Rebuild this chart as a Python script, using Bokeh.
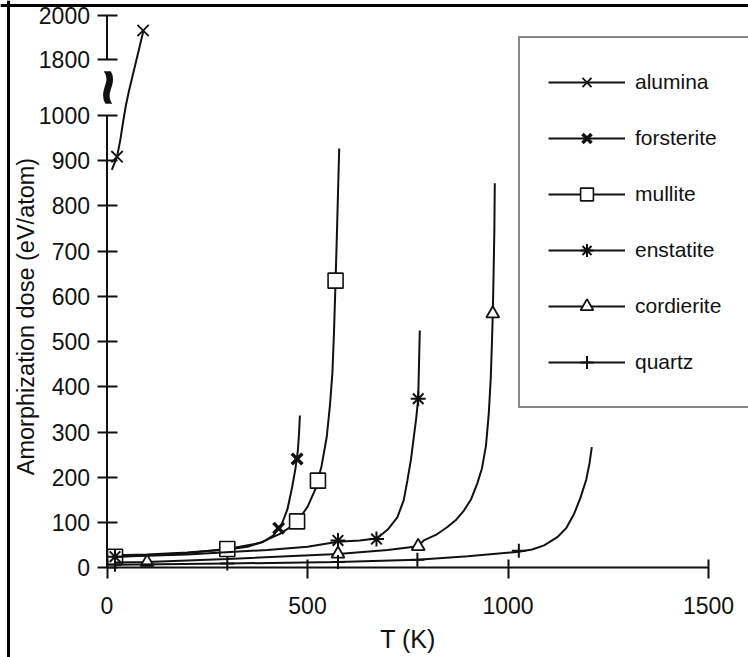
import math
from bokeh.plotting import figure
from bokeh.models import (LinearAxis, FixedTicker, Legend, LegendItem, Span,
                          Range1d, Label)
from bokeh.embed import file_html
from bokeh.resources import INLINE
from bokeh.core.properties import value

# ---------------- data ----------------
names = ["alumina", "forsterite", "mullite", "enstatite", "cordierite", "quartz"]

# measured points (markers)
alumina_pts_T = [25, 90]
alumina_pts_D = [909, 1932]
forsterite_pts_T = [20, 300, 428, 474]
forsterite_pts_D = [28, 42, 88, 241]
mullite_pts_T = [20, 300, 474, 526, 570]
mullite_pts_D = [25, 42, 103, 193, 635]
enstatite_pts_T = [20, 576, 672, 776]
enstatite_pts_D = [25, 61, 64, 374]
cordierite_pts_T = [100, 576, 776, 962]
cordierite_pts_D = [13, 31, 48, 562]
quartz_pts_T = [20, 300, 576, 774, 1027]
quartz_pts_D = [7, 10, 13, 18, 38]

# fitted curves
alumina_T = [12, 25, 33, 40, 47, 55, 64, 73, 82, 91]
alumina_D = [880, 909, 945, 985, 1144, 1359, 1574, 1790, 1865, 1932]
forsterite_T = [20, 100, 200, 300, 350, 390, 415, 435, 450, 462, 470, 476, 479, 481]
forsterite_D = [28, 30, 34, 41, 47, 58, 72, 95, 130, 180, 220, 260, 300, 337]
mullite_T = [20, 100, 200, 300, 380, 430, 460, 480, 500, 520, 535, 548, 556, 562, 566, 570, 574, 579]
mullite_D = [25, 28, 33, 42, 55, 75, 92, 110, 135, 175, 225, 290, 360, 430, 520, 635, 760, 927]
enstatite_T = [20, 200, 400, 500, 576, 630, 672, 682, 700, 724, 740, 749, 758, 765, 771, 776, 778, 780]
enstatite_D = [25, 30, 40, 47, 58, 61, 65, 72, 85, 112, 150, 193, 240, 289, 330, 374, 450, 525]
cordierite_T = [20, 100, 300, 576, 700, 776, 790, 820, 848, 870, 890, 908, 923, 935, 945, 952, 957, 960, 962, 964, 966, 967]
cordierite_D = [12, 13, 20, 31, 40, 48, 61, 73, 90, 106, 127, 152, 186, 220, 270, 341, 420, 500, 562, 650, 750, 850]
quartz_T = [20, 300, 576, 774, 900, 1027, 1060, 1090, 1123, 1145, 1165, 1181, 1195, 1203, 1209]
quartz_D = [7, 10, 13, 18, 26, 36, 41, 50, 68, 88, 120, 156, 195, 230, 267]

x_ticks = [0, 500, 1000, 1500]
y_ticks_low = [0, 100, 200, 300, 400, 500, 600, 700, 800, 900, 1000]
y_ticks_high = [1800, 2000]

# ---------------- broken y scale ----------------
LOW_TOP = 1000          # last value of lower segment
HIGH_BOTTOM = 1800      # first value of upper segment
POS_HIGH_BOTTOM = 1123  # plotted position of 1800
POS_HIGH_TOP = 1221     # plotted position of 2000
HIGH_SCALE = (POS_HIGH_TOP - POS_HIGH_BOTTOM) / (2000 - HIGH_BOTTOM)


def disp(v):
    if v <= LOW_TOP:
        return v
    if v < HIGH_BOTTOM:
        return LOW_TOP + (v - LOW_TOP) * (POS_HIGH_BOTTOM - LOW_TOP) / (HIGH_BOTTOM - LOW_TOP)
    return POS_HIGH_BOTTOM + (v - HIGH_BOTTOM) * HIGH_SCALE


FONT = "Liberation Sans"
INK = "#111111"

X0, X1 = -265.6, 1599.7
Y0, Y1 = -197.8, 1254.1

p = figure(width=748, height=657, output_backend="svg", toolbar_location=None,
           x_range=Range1d(X0, X1), y_range=Range1d(Y0, Y1),
           x_axis_type=None, y_axis_type=None, min_border=0,
           outline_line_color=None, background_fill_color="white")

# x axis
xaxis = LinearAxis(fixed_location=0, bounds=(0, 1500),
                   ticker=FixedTicker(ticks=x_ticks), axis_label="T (K)")
xaxis.axis_line_width = 2
xaxis.axis_line_color = INK
xaxis.major_tick_in = 8
xaxis.major_tick_out = 11
xaxis.major_tick_line_width = 2
xaxis.major_tick_line_color = INK
xaxis.minor_tick_line_color = None
xaxis.major_label_text_font = FONT
xaxis.major_label_text_font_size = "23px"
xaxis.major_label_text_color = INK
xaxis.major_label_standoff = 18
xaxis.axis_label_text_font = FONT
xaxis.axis_label_text_font_size = "25px"
xaxis.axis_label_text_font_style = "normal"
xaxis.axis_label_text_color = INK
xaxis.axis_label_standoff = 8
p.add_layout(xaxis, "below")

# y axis (broken)
y_pos = [int(round(disp(v))) for v in y_ticks_low + y_ticks_high]
overrides = {int(round(disp(v))): str(v) for v in y_ticks_high}
yaxis = LinearAxis(fixed_location=0, bounds=(0, POS_HIGH_TOP),
                   ticker=FixedTicker(ticks=y_pos))
yaxis.major_label_overrides = overrides
yaxis.axis_line_color = None
yaxis.major_tick_in = 10
yaxis.major_tick_out = 10
yaxis.major_tick_line_width = 2
yaxis.major_tick_line_color = INK
yaxis.minor_tick_line_color = None
yaxis.major_label_text_font = FONT
yaxis.major_label_text_font_size = "23px"
yaxis.major_label_text_color = INK
yaxis.major_label_standoff = 7
p.add_layout(yaxis, "left")

p.add_layout(Label(x=25, y=341, x_units="screen", y_units="screen",
                   text="Amorphization dose (eV/atom)", angle=math.pi / 2,
                   text_align="center", text_baseline="middle",
                   text_font=FONT, text_font_size="23.5px", text_color=INK))

# y axis rule in two pieces
p.segment(x0=[0, 0], y0=[disp(0), disp(HIGH_BOTTOM)],
          x1=[0, 0], y1=[disp(LOW_TOP), disp(2000)],
          line_color=INK, line_width=2)
# break mark
p.text(x=[0], y=[disp(1400)], text=["~"], angle=math.pi / 2,
       text_align="center", text_baseline="middle",
       text_font=value(FONT), text_font_size="64px", text_font_style="bold",
       text_color=INK)

series = [
    (alumina_T, alumina_D, alumina_pts_T, alumina_pts_D, "x", 16, 1.8, None),
    (forsterite_T, forsterite_D, forsterite_pts_T, forsterite_pts_D, "x", 15, 3.5, None),
    (mullite_T, mullite_D, mullite_pts_T, mullite_pts_D, "square", 15, 1.6, "white"),
    (enstatite_T, enstatite_D, enstatite_pts_T, enstatite_pts_D, "asterisk", 15, 2.0, None),
    (cordierite_T, cordierite_D, cordierite_pts_T, cordierite_pts_D, "triangle", 13, 1.8, "white"),
    (quartz_T, quartz_D, quartz_pts_T, quartz_pts_D, "cross", 14, 2.0, None),
]

items = []
for name, (cT, cD, mT, mD, mk, sz, lw, fill) in zip(names, series):
    lr = p.line(x=cT, y=[disp(v) for v in cD], line_color=INK, line_width=2)
    sr = p.scatter(x=mT, y=[disp(v) for v in mD], marker=mk, size=sz,
                   line_color=INK, line_width=lw,
                   fill_color=fill if fill else INK)
    items.append(LegendItem(label=name, renderers=[lr, sr]))

legend = Legend(items=items, location=(518, 249), orientation="vertical")
legend.glyph_width = 77
legend.glyph_height = 32
legend.label_height = 32
legend.spacing = 24
legend.padding = 28
legend.margin = 0
legend.label_standoff = 10
legend.label_text_font = FONT
legend.label_text_font_size = "21px"
legend.label_text_color = INK
legend.border_line_color = INK
legend.border_line_width = 2
legend.background_fill_color = "white"
legend.background_fill_alpha = 1
p.add_layout(legend)

# outer frame lines (left and top edges of the scanned figure)
p.add_layout(Span(location=-245.6, dimension="height", line_color="black", line_width=3))
p.add_layout(Span(location=1243.1, dimension="width", line_color="black", line_width=3))

open("out.html", "w").write(file_html(p, INLINE))
